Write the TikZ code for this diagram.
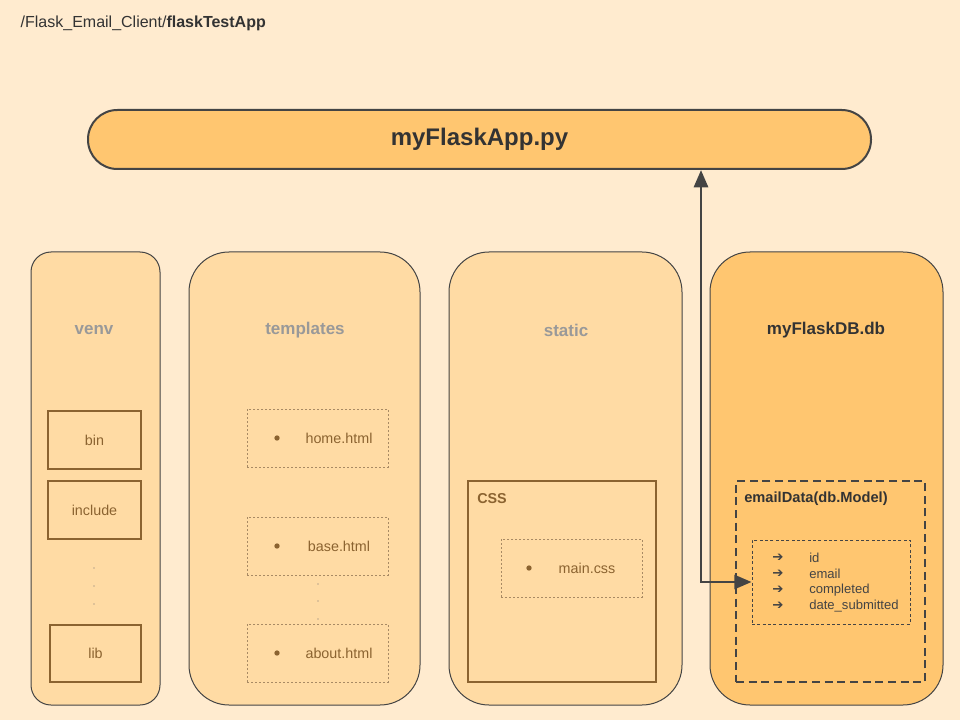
\documentclass[tikz,border=0pt]{standalone}
\usepackage{fontspec}
\setmainfont{Liberation Sans}
\newfontfamily\symfont{DejaVu Sans}
\usetikzlibrary{arrows.meta}

\definecolor{bgcream}{HTML}{FFEBCF}
\definecolor{panelfill}{HTML}{FFDBA4}
\definecolor{hotfill}{HTML}{FFC670}
\definecolor{edgegray}{HTML}{444444}
\definecolor{titledark}{HTML}{333333}
\definecolor{brownline}{HTML}{8B6330}
\definecolor{headgray}{HTML}{999999}

\tikzset{
  panel/.style={draw=edgegray, line width=0.75pt, fill=panelfill, rounded corners=30pt,
    minimum width=174.75pt, minimum height=339.75pt, inner sep=0pt},
  folder/.style={draw=brownline, line width=1.5pt, text=brownline, inner sep=0pt,
    minimum width=69.75pt, minimum height=43.5pt, font=\fontsize{10.75}{13}\selectfont},
  filebox/.style={draw=brownline!75, line width=0.6pt, dash pattern=on 1.5pt off 1.5pt,
    minimum width=105.75pt, minimum height=43.5pt, inner sep=0pt},
  header/.style={text=headgray, font=\bfseries\fontsize{12.75}{15}\selectfont},
  fname/.style={text=brownline, font=\fontsize{10.75}{13}\selectfont},
  bullet/.style={circle, fill=brownline, inner sep=0pt, minimum size=4pt},
  fieldtxt/.style={text=edgegray, font=\fontsize{9.8}{11}\selectfont, anchor=west, inner sep=0pt},
  link/.style={draw=edgegray, line width=2.2pt,
    {Triangle[length=13pt,width=10.5pt]}-{Triangle[length=13pt,width=10.5pt]}},
}

\begin{document}
\begin{tikzpicture}[x=0.75pt, y=-0.75pt]
  \fill[bgcream] (0,0) rectangle (960,720);

  \node[anchor=west, text=titledark, font=\fontsize{12}{14}\selectfont] (path) at (16,23)
    {/Flask\_Email\_Client/\textbf{flaskTestApp}};

  % main app bar
  \node[draw=edgegray, line width=1.5pt, fill=hotfill, rounded corners=22pt,
    minimum width=587.25pt, minimum height=44.25pt, text=titledark,
    font=\bfseries\fontsize{18}{21}\selectfont] (app) at (479.5,139.5) {myFlaskApp.py};

  % folders
  \node[panel, minimum width=96.75pt, rounded corners=15pt] (venv) at (95.5,478.5) {};
  \node[panel, minimum width=173.25pt] (templates) at (304.5,478.5) {};
  \node[panel] (static) at (565.5,478.5) {};
  \node[panel, fill=hotfill] (db) at (826.5,478.5) {};

  \node[header] (venv-title) at (94,330) {venv};
  \node[header] (templates-title) at (305,330) {templates};
  \node[header] (static-title) at (566,330) {static};
  \node[header, text=titledark] (db-title) at (826,330) {myFlaskDB.db};

  % venv
  \node[folder] (bin) at (94.5,440) {bin};
  \node[folder] (include) at (94.5,510) {include};
  \node[folder, minimum width=68.25pt, minimum height=42.75pt] (lib) at (95.5,653.5) {lib};
  \foreach \y in {568,586,604}
    \fill[brownline!55] (94,\y) circle (0.6pt);

  % templates
  \foreach \f/\y/\n in {home.html/438/home, base.html/546/base, about.html/653/about} {
    \node[filebox] (\n) at (317.5,\y) {};
    \node[bullet] (\n-dot) at (277,\y) {};
    \node[fname] (\n-name) at (339,\y) {\f};
  }
  \foreach \y in {584,601,619}
    \fill[brownline!55] (318,\y) circle (0.6pt);

  % static
  \node[draw=brownline, line width=1.5pt, minimum width=141pt, minimum height=150.75pt,
    inner sep=0pt] (css) at (562,581.5) {};
  \node[anchor=west, text=brownline, font=\bfseries\fontsize{10.75}{13}\selectfont,
    inner sep=0pt] (css-title) at (477,499) {CSS};
  \node[filebox] (maincss) at (571.5,568) {};
  \node[bullet] (maincss-dot) at (529,568) {};
  \node[fname] (maincss-name) at (587,568) {main.css};

  % db model
  \node[draw=edgegray, line width=1.5pt, dash pattern=on 6pt off 3.5pt,
    minimum width=141.75pt, minimum height=150.75pt, inner sep=0pt] (model) at (830.5,581.5) {};
  \node[anchor=west, text=titledark, font=\bfseries\fontsize{11}{13}\selectfont,
    inner sep=0pt] (model-title) at (744,499) {emailData(db.Model)};
  \node[draw=edgegray, line width=0.6pt, dash pattern=on 2.2pt off 1.8pt,
    minimum width=118.5pt, minimum height=63pt, inner sep=0pt] (fields) at (831,582) {};
  \foreach \f [count=\i] in {id, email, completed, date\_submitted} {
    \node[text=edgegray, inner sep=0pt, font=\symfont\fontsize{10}{12}\selectfont]
      (tip\i) at (778,542+16*\i) {➔};
    \node[fieldtxt] (field\i) at (809,542+16*\i) {\f};
  }

  % app <-> model
  \coordinate (lift) at (701,582);
  \draw[link] (fields.west) -| (app.south -| lift);
\end{tikzpicture}
\end{document}
